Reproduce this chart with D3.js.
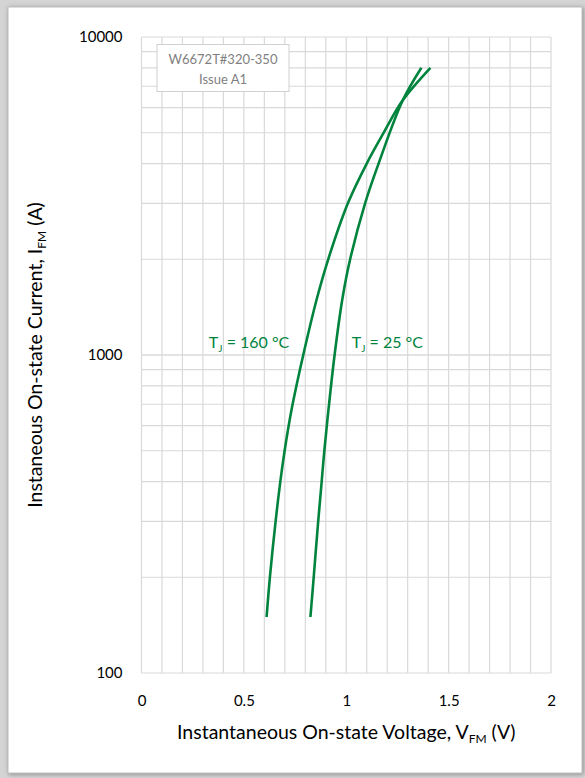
<!DOCTYPE html>
<html>
<head>
<meta charset="utf-8">
<script src="https://cdn.jsdelivr.net/npm/d3@7"></script>
<style>
  body { margin: 0; background: #fff; }
  text { font-family: Lato, "Open Sans", sans-serif; }
</style>
</head>
<body>
<div id="chart"></div>
<script>
// Data
const vTicks = [0, 0.5, 1, 1.5, 2];
const iTicks = [100, 1000, 10000];

// Tj = 160 °C curve
const v160 = [0.611, 0.627, 0.655, 0.678, 0.699, 0.719, 0.738, 0.790, 0.856, 0.912, 1.008, 1.100, 1.183, 1.274, 1.411];
const i160 = [150, 200, 300, 400, 500, 600, 700, 1000, 1500, 2000, 3000, 4000, 5000, 6300, 8000];

// Tj = 25 °C curve
const v25 = [0.825, 0.841, 0.863, 0.880, 0.893, 0.916, 0.943, 0.981, 1.019, 1.092, 1.158, 1.275, 1.367];
const i25 = [150, 200, 300, 400, 500, 700, 1000, 1500, 2000, 3000, 4000, 6300, 8000];

const W = 585, H = 778;
const margin = {top: 37, right: 34, bottom: 105, left: 141.5};
const width = W - margin.left - margin.right,
      height = H - margin.top - margin.bottom;

const svg = d3.select("#chart").append("svg")
    .attr("width", W)
    .attr("height", H);

// outer frame with shadow
const defs = svg.append("defs");
const f = defs.append("filter").attr("id", "sh").attr("x", "-5%").attr("y", "-5%").attr("width", "110%").attr("height", "110%");
f.append("feDropShadow").attr("dx", 1).attr("dy", 1).attr("stdDeviation", 2).attr("flood-color", "#777").attr("flood-opacity", 0.8);

svg.append("rect").attr("width", W).attr("height", H).attr("fill", "#d4d4d4");
svg.append("rect")
    .attr("x", 8).attr("y", 7).attr("width", 574).attr("height", 766)
    .attr("fill", "#fff").attr("stroke", "#bdbdbd").attr("filter", "url(#sh)");

const g = svg.append("g")
    .attr("transform", `translate(${margin.left},${margin.top})`);

const x = d3.scaleLinear().domain([0, 2]).range([0, width]);
const y = d3.scaleLog().domain([100, 10000]).range([height, 0]);

// grid: every 0.1 V and log minor lines
const vGrid = d3.range(0, 21).map(d => d / 10);
const iGrid = [];
[100, 1000].forEach(dec => { for (let k = 1; k <= 10; k++) iGrid.push(dec * k); });

g.selectAll(".vg").data(vGrid).enter().append("line")
    .attr("x1", d => x(d)).attr("x2", d => x(d))
    .attr("y1", 0).attr("y2", height)
    .attr("stroke", "#d9d9d9").attr("stroke-width", 1.2);

g.selectAll(".ig").data(iGrid).enter().append("line")
    .attr("x1", 0).attr("x2", width)
    .attr("y1", d => y(d)).attr("y2", d => y(d))
    .attr("stroke", "#d9d9d9").attr("stroke-width", 1.2);

// axes (labels only)
const xAxis = g.append("g")
    .attr("transform", `translate(0,${height})`)
    .call(d3.axisBottom(x).tickValues(vTicks).tickFormat(d3.format("")).tickSize(0).tickPadding(22));
xAxis.select(".domain").remove();
xAxis.selectAll("text").attr("font-size", 15).attr("fill", "#000").style("font-family", "Lato, sans-serif");

const yAxis = g.append("g")
    .call(d3.axisLeft(y).tickValues(iTicks).tickFormat(d3.format("d")).tickSize(0).tickPadding(19));
yAxis.select(".domain").remove();
yAxis.selectAll("text").attr("font-size", 15).attr("fill", "#000").style("font-family", "Lato, sans-serif");

// curves
const line = d3.line().x(d => x(d[0])).y(d => y(d[1])).curve(d3.curveCatmullRom.alpha(0.5));
const green = "#00843D";
[[v160, i160], [v25, i25]].forEach(([vs, is]) => {
    g.append("path")
        .datum(vs.map((v, k) => [v, is[k]]))
        .attr("d", line)
        .attr("fill", "none")
        .attr("stroke", green)
        .attr("stroke-width", 2.6);
});

// curve labels
function tjLabel(xv, yi, temp) {
    const t = g.append("text")
        .attr("x", x(xv)).attr("y", y(yi))
        .attr("font-size", 16).attr("fill", green);
    t.append("tspan").text("T");
    t.append("tspan").attr("font-size", 10).attr("dy", 4).text("J");
    t.append("tspan").attr("dy", -4).text(" = " + temp + " °C");
}
tjLabel(0.329, 1050, "160");
tjLabel(1.027, 1050, "25");

// info box
g.append("rect")
    .attr("x", 15.5).attr("y", 7.5).attr("width", 132).attr("height", 47)
    .attr("fill", "#fff").attr("stroke", "#d0d0d0");
g.append("text").attr("x", 81.5).attr("y", 27).attr("text-anchor", "middle")
    .attr("font-size", 13).attr("fill", "#7f7f7f").text("W6672T#320-350");
g.append("text").attr("x", 81.5).attr("y", 47).attr("text-anchor", "middle")
    .attr("font-size", 13).attr("fill", "#7f7f7f").text("Issue A1");

// axis titles
const xt = svg.append("text")
    .attr("x", margin.left + width / 2).attr("y", 739)
    .attr("text-anchor", "middle").attr("font-size", 19.5).attr("fill", "#000");
xt.append("tspan").text("Instantaneous On-state Voltage, V");
xt.append("tspan").attr("font-size", 12).attr("dy", 4).text("FM");
xt.append("tspan").attr("dy", -4).text(" (V)");

const yt = svg.append("text")
    .attr("transform", `translate(42,${margin.top + height / 2}) rotate(-90)`)
    .attr("text-anchor", "middle").attr("font-size", 19.5).attr("fill", "#000");
yt.append("tspan").text("Instaneous On-state Current, I");
yt.append("tspan").attr("font-size", 12).attr("dy", 4).text("FM");
yt.append("tspan").attr("dy", -4).text(" (A)");
</script>
</body>
</html>
